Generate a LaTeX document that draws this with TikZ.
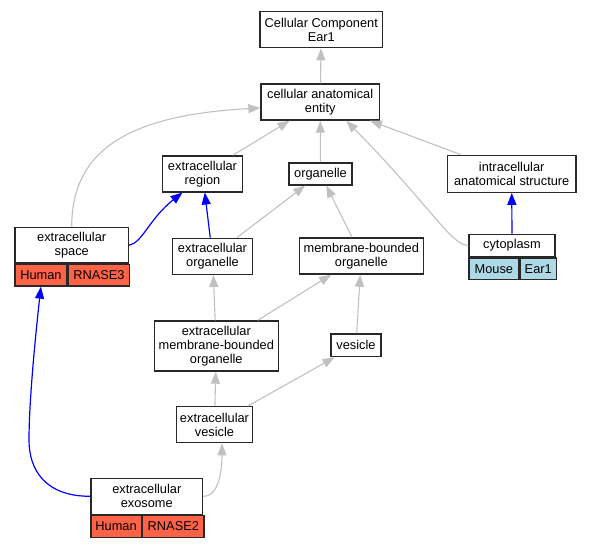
\documentclass[tikz,border=0pt]{standalone}
\usepackage{fontspec}
\setmainfont{Liberation Sans}
\usepackage{tikz}
\definecolor{hum}{RGB}{255, 99, 71}
\definecolor{mus}{RGB}{173, 216, 230}
\definecolor{edgegray}{RGB}{192, 192, 192}
\definecolor{boxline}{RGB}{40, 40, 40}
\usetikzlibrary{positioning}
\usetikzlibrary{arrows.meta}

\begin{document}
\begin{tikzpicture}
		[x=1pt, y=-1pt,
		every node/.style={font=\fontsize{12.8}{14}\selectfont, inner sep=2pt},
		term/.style={draw=boxline, line width=1.4pt, fill=white, align=center, minimum height=22pt},
		cell/.style={draw=boxline, line width=1.4pt, minimum height=21.5pt},
		isa/.style={draw=edgegray, line width=1.1pt, -{Triangle[length=12pt,width=9pt]}},
		partof/.style={draw=blue, line width=1.2pt, -{Triangle[length=12pt,width=9pt]}}]
		\useasboundingbox (0, 0) rectangle (592, 547);
		\node (cc) [term, minimum width=122.7pt, minimum height=36pt] at (321.3, 29.7) {Cellular Component\\Ear1};
		\node (cae) [term, minimum width=118.3pt, minimum height=36pt] at (320.2, 102) {cellular anatomical\\entity};
		\node (er) [term, minimum width=79.6pt, minimum height=36pt] at (202.5, 173.8) {extracellular\\region};
		\node (org) [term, minimum width=63pt] at (320.5, 173.8) {organelle};
		\node (ias) [term, minimum width=128.7pt, minimum height=37pt] at (511.7, 173.7) {intracellular\\anatomical structure};
		\node (es) [term, minimum width=113.3pt, minimum height=35.7pt] at (71.7, 245.2) {extracellular\\space};
		\node (esh) [cell, fill=hum, minimum width=51.7pt, below right=0pt of es.south west] {Human};
		\node (esg) [cell, fill=hum, minimum width=61.6pt, right=0pt of esh] {RNASE3};
		\node (eo) [term, minimum width=79.6pt, minimum height=36pt] at (212.5, 256.3) {extracellular\\organelle};
		\node (mbo) [term, minimum width=124pt, minimum height=36pt] at (361.3, 256) {membrane-bounded\\organelle};
		\node (cyto) [term, minimum width=86pt, minimum height=22.4pt] at (512, 245.5) {cytoplasm};
		\node (cytom) [cell, fill=mus, minimum width=49.7pt, below right=0pt of cyto.south west] {Mouse};
		\node (cytog) [cell, fill=mus, minimum width=36.3pt, right=0pt of cytom] {Ear1};
		\node (emo) [term, minimum width=124pt, minimum height=50pt] at (216.3, 346) {extracellular\\membrane-bounded\\organelle};
		\node (ves) [term, minimum width=50pt, minimum height=22.7pt] at (356, 345.3) {vesicle};
		\node (ev) [term, minimum width=75.6pt, minimum height=36pt] at (214.5, 424.7) {extracellular\\vesicle};
		\node (exo) [term, minimum width=111.7pt, minimum height=36pt] at (146.8, 496.3) {extracellular\\exosome};
		\node (exoh) [cell, fill=hum, minimum width=50.3pt, below right=0pt of exo.south west] {Human};
		\node (exog) [cell, fill=hum, minimum width=61.4pt, right=0pt of exoh] {RNASE2};
		\coordinate (exobend) at (29, 440);
		\draw [isa] (cae) to (cc);
		\draw [isa] (er) to (cae);
		\draw [isa] (org) to (cae);
		\draw [isa] (ias) to (cae);
		\draw [isa] (es.north) .. controls +(0, -77) and +(-131, 7) .. ([yshift=-6pt]cae.west);
		\draw [isa] (cyto.west) .. controls +(-17, 0) and +(84, 85) .. ([xshift=26pt]cae.south);
		\draw [partof] (es.east) .. controls +(13, -2) and +(-33, 26) .. ([xshift=-20pt]er.south);
		\draw [partof] (eo) to (er);
		\draw [isa] (eo) to (org);
		\draw [isa] (mbo) to (org);
		\draw [partof] (cyto) to (ias);
		\draw [isa] (emo) to (eo);
		\draw [isa] (emo) to (mbo);
		\draw [isa] (ves) to (mbo);
		\draw [isa] (ev) to (emo);
		\draw [isa] (ev) to (ves);
		\draw [isa] (exo.east) .. controls +(17, 0) and +(0, 22) .. ([xshift=7.5pt]ev.south);
		\draw [partof] (exo.west) .. controls +(-45, 0) and +(0, 30) .. (exobend) .. controls +(0, -40) and +(-5, 45) .. (esh.south);
\end{tikzpicture}
\end{document}
